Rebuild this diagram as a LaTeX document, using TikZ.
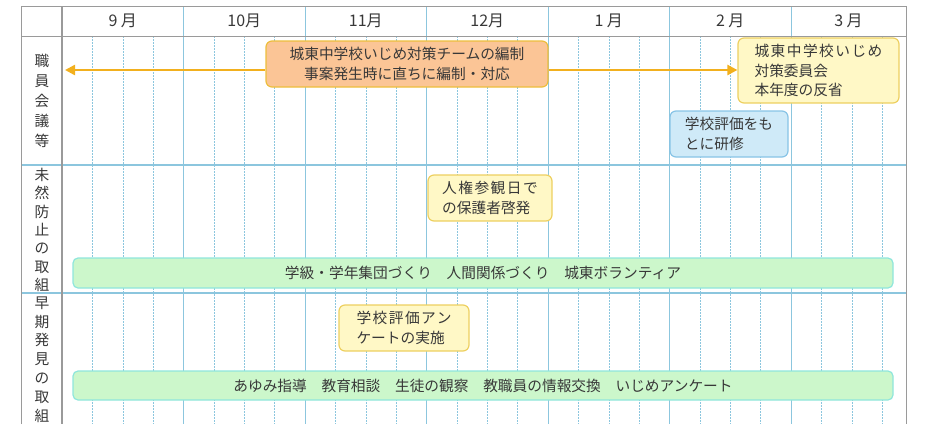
\documentclass[tikz,border=0pt]{standalone}
\usepackage{fontspec}
\setmainfont{Noto Sans CJK JP}
\usetikzlibrary{arrows.meta}

\definecolor{framegray}{HTML}{9A9A9A}
\definecolor{gridblue}{HTML}{8CC6DE}
\definecolor{arrowgold}{HTML}{F2B01E}
\definecolor{teamfill}{HTML}{FBC596}
\definecolor{teamline}{HTML}{EDBE3C}
\definecolor{notefill}{HTML}{FFF8C6}
\definecolor{noteline}{HTML}{EDD060}
\definecolor{studyfill}{HTML}{CFEAF8}
\definecolor{studyline}{HTML}{88C4E6}
\definecolor{barfill}{HTML}{CCF7CB}
\definecolor{barline}{HTML}{8FE6DC}
\definecolor{inkgray}{HTML}{383838}

\newcommand{\spaced}[1]{{\addfontfeatures{LetterSpace=10}#1}}

\begin{document}
\begin{tikzpicture}[x=1pt,y=-1pt,
  jp/.style={font=\fontsize{14.7}{19.5}\selectfont, text=inkgray},
  planbox/.style={jp, rounded corners=6pt, line width=1.2pt, inner sep=0pt},
  teambox/.style={planbox, draw=teamline, fill=teamfill, align=center},
  notebox/.style={planbox, draw=noteline, fill=notefill, align=left},
  studybox/.style={planbox, draw=studyline, fill=studyfill, align=left},
  barbox/.style={planbox, rounded corners=5pt, draw=barline, fill=barfill,
    minimum width=820pt},
  rowlabel/.style={jp, align=center},
  goldarrow/.style={draw=arrowgold, line width=2.4pt,
    -{Triangle[length=10pt,width=10pt]}}
]

\useasboundingbox (0,0) rectangle (938,424);

\pgfmathsetmacro{\colL}{62}
\pgfmathsetmacro{\month}{121.5}
\pgfmathsetmacro{\week}{30.375}

% week lines, then month lines
\foreach \k in {1,...,27} {
  \pgfmathsetmacro{\xx}{\colL+\week*\k}
  \draw[gridblue, dash pattern=on 2pt off 1pt] (\xx,36) -- (\xx,424);
}
\foreach \i in {1,...,6} {
  \pgfmathsetmacro{\xx}{\colL+\month*\i}
  \draw[gridblue, line width=0.9pt] (\xx,6) -- (\xx,424);
}
\draw[gridblue, line width=1.3pt] (21,165) -- (906,165);
\draw[gridblue, line width=1.3pt] (21,293) -- (906,293);

% frame
\draw[framegray, line width=1pt] (21,424) -- (21,6) -- (906,6) -- (906,424);
\draw[framegray, line width=1pt] (21,36) -- (906,36);
\draw[framegray, line width=1.6pt] (\colL,6) -- (\colL,424);

% months
\foreach \x/\m/\n in {122.75/9 月/sep, 244.25/10月/oct, 365.75/11月/nov,
  487.25/12月/dec, 608.75/1 月/jan, 730.25/2 月/feb, 848.5/3 月/mar}
  \node[jp, font=\fontsize{16}{18}\selectfont] (\n) at (\x,21) {\m};

% row labels
\node[rowlabel, font=\fontsize{14.7}{20}\selectfont] (kaigi) at (42,101)
  {職\\員\\会\\議\\等};
\node[rowlabel, font=\fontsize{14.7}{18.4}\selectfont] (mizen) at (42,230)
  {未\\然\\防\\止\\の\\取\\組};
\node[rowlabel, font=\fontsize{14.7}{18.8}\selectfont] (soki) at (42,359.5)
  {早\\期\\発\\見\\の\\取\\組};

% boxes
\node[teambox, minimum width=282pt, minimum height=46pt] (team) at (407,64)
  {城東中学校いじめ対策チームの編制\\事案発生時に直ちに編制・対応};
\node[notebox, minimum width=161pt, minimum height=65pt] (taisaku) at (818.5,70.5)
  {\spaced{城東中学校いじめ}\\対策委員会\\本年度の反省};
\node[studybox, minimum width=118pt, minimum height=46pt] (kenshu) at (729,134)
  {学校評価をも\\とに研修};
\node[notebox, minimum width=124pt, minimum height=46pt] (sankan) at (490,198)
  {\spaced{人権参観日で}\\の保護者啓発};
\node[notebox, minimum width=130pt, minimum height=46pt] (hyoka) at (404,328)
  {\spaced{学校評価アン}\\ケートの実施};
\node[barbox, minimum height=30pt] (mizenbar) at (483,273)
  {学級・学年集団づくり　人間関係づくり　城東ボランティア};
\node[barbox, minimum height=29pt] (sokibar) at (483,385.5)
  {あゆみ指導　教育相談　生徒の観察　教職員の情報交換　いじめアンケート};

% arrows
\coordinate (start) at (65,70);
\draw[goldarrow] (team.west |- start) -- (start);
\draw[goldarrow] (team.east |- start) -- (taisaku.west |- start);

\end{tikzpicture}
\end{document}
